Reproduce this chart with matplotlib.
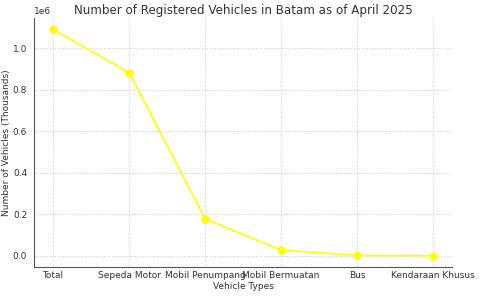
import matplotlib
matplotlib.use("Agg")
import matplotlib.pyplot as plt

categories = ["Total", "Sepeda Motor", "Mobil Penumpang", "Mobil Bermuatan", "Bus", "Kendaraan Khusus"]
vehicles = [1092000, 884000, 179000, 29000, 3000, 1500]

plt.rcParams["text.color"] = "#333333"
plt.rcParams["axes.labelcolor"] = "#333333"

fig = plt.figure(figsize=(4.8, 2.96), dpi=100)
ax = fig.add_axes([0.071, 0.098, 0.871, 0.841])
ax.plot(categories, vehicles, color="yellow", marker="o", markersize=5, linewidth=1.2)

ax.set_title("Number of Registered Vehicles in Batam as of April 2025", fontsize=8.6, pad=3, y=1.0)
ax.set_xlabel("Vehicle Types", fontsize=6.5, labelpad=1)
ax.set_ylabel("Number of Vehicles (Thousands)", fontsize=6.5, labelpad=1)
ax.tick_params(axis="x", labelsize=6.5, length=0, pad=3, colors="#333333")
ax.tick_params(axis="y", labelsize=6.5, length=0, pad=5, colors="#333333")
ax.yaxis.get_offset_text().set_fontsize(6.5)
ax.grid(True, linestyle=":", color="#cccccc", linewidth=0.7)
for s in ["top", "right"]:
    ax.spines[s].set_visible(False)
for s in ["left", "bottom"]:
    ax.spines[s].set_color("#555555")
    ax.spines[s].set_linewidth(0.8)

fig.savefig("out.png", dpi=100)
